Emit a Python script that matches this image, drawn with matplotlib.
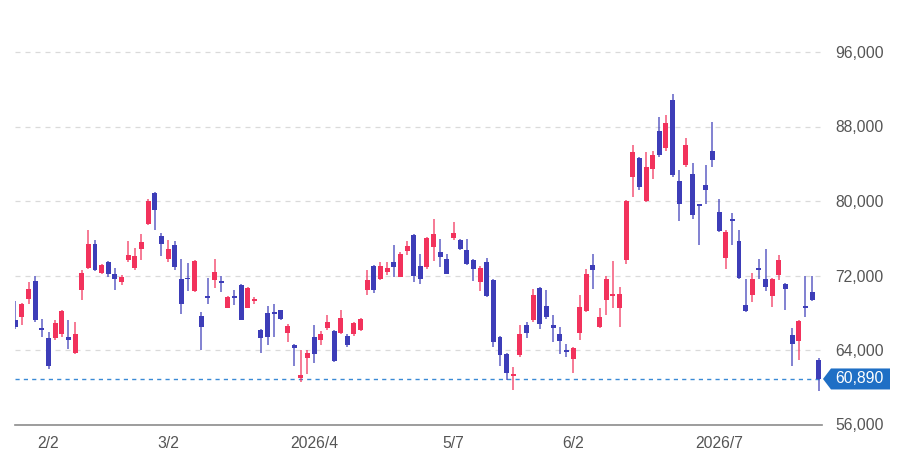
import matplotlib
matplotlib.use("Agg")
import matplotlib.pyplot as plt
from matplotlib.patches import Polygon
from matplotlib.transforms import IdentityTransform
from matplotlib.ticker import FuncFormatter
import numpy as np

plt.rcParams['font.family'] = ['Liberation Sans', 'DejaVu Sans']

# daily OHLC, one candle per trading day (late Jan .. late Jul 2026)
opens = [67200, 67500, 69500, 71400, 66400, 65240, 65240, 65740, 65390, 63700,
         70410, 72850, 75430, 72270, 73450, 72200, 71270, 73710, 72850, 74890,
         77570, 80900, 76210, 73810, 75240, 71670, 71780, 70330, 67630, 69770,
         71480, 71410, 68550, 69770, 70950, 68550, 69330, 66110, 67980, 68100,
         68260, 65850, 64520, 60990, 63180, 65390, 65110, 66400, 66040, 65850,
         65460, 65680, 66110, 70480, 72990, 71670, 72380, 73450, 71840, 74640,
         76390, 73020, 72910, 75070, 74520, 73820, 76070, 75860, 74780, 73630,
         71300, 73450, 71560, 65390, 63540, 61170, 63430, 66720, 67190, 70700,
         68690, 66650, 65670, 64040, 63070, 65790, 68160, 73100, 66500, 69340,
         69800, 68510, 73630, 82580, 84620, 79970, 83400, 87480, 85730, 90850,
         82120, 83860, 82940, 79610, 81760, 85330, 78820, 73910, 78030, 75670,
         68870, 69950, 72850, 71670, 69840, 72100, 71060, 65640, 64950, 68690,
         70230, 62920]
highs = [69300, 69000, 71300, 71950, 67370, 65950, 67190, 68260, 67190, 67000,
         72640, 76850, 75860, 73280, 73560, 72850, 72020, 75670, 75000, 76500,
         80260, 80970, 76570, 75780, 75670, 73820, 73310, 73700, 68100, 71770,
         73740, 71950, 69770, 70410, 71060, 70770, 69730, 66290, 68690, 68910,
         68300, 66830, 64690, 63970, 63970, 66650, 66040, 67800, 66110, 68340,
         65680, 67000, 67480, 72560, 73100, 73450, 73450, 75320, 74520, 75720,
         76500, 74280, 76140, 78110, 75960, 74350, 77750, 75960, 75960, 73820,
         72990, 73920, 71630, 65540, 63680, 62190, 66650, 67000, 70590, 70770,
         70410, 67730, 66470, 64690, 64330, 69880, 72670, 74350, 68550, 71950,
         73530, 70770, 80070, 86060, 84730, 85260, 85330, 89020, 89200, 91460,
         83300, 86770, 84120, 79720, 83830, 88480, 80260, 76850, 78750, 76850,
         71670, 72310, 73740, 74890, 71740, 74170, 71240, 66360, 67230, 71950,
         71950, 63140]
lows = [66300, 66650, 68900, 67000, 65390, 62000, 65050, 65390, 64150, 63610,
        69340, 72740, 72480, 72120, 71840, 70410, 70950, 73450, 72560, 73630,
        77390, 76850, 74060, 73450, 72640, 67910, 70300, 70230, 64050, 68910,
        70700, 70230, 68480, 68800, 67190, 68480, 68900, 63700, 64520, 65390,
        67190, 64840, 62300, 60560, 61470, 62590, 64520, 66110, 62720, 65740,
        64330, 65540, 66040, 69870, 70120, 71480, 72020, 71840, 71840, 74170,
        71300, 71060, 72740, 73560, 72910, 72120, 75860, 74780, 73170, 71370,
        70330, 69700, 64300, 62300, 60740, 59670, 63250, 65240, 67000, 66290,
        67370, 64840, 63610, 63250, 61580, 65070, 68100, 70520, 66400, 67730,
        68510, 66470, 73280, 80430, 81150, 79900, 82400, 84730, 85370, 82580,
        77820, 83650, 78110, 75320, 79720, 83650, 76670, 72740, 75240, 71590,
        68100, 69120, 71670, 70300, 68620, 71480, 68260, 62280, 62920, 67540,
        69230, 59560]
closes = [66500, 68900, 70500, 67260, 66110, 62260, 66910, 68160, 65110, 65670,
          72270, 75430, 72630, 73100, 72120, 71620, 71840, 74170, 74060, 75600,
          80000, 79000, 75430, 74890, 72910, 68910, 71590, 73560, 66470, 69550,
          72380, 71190, 69690, 69620, 67260, 70700, 69480, 65240, 65390, 67850,
          67370, 66580, 64260, 61360, 63680, 63540, 65680, 67000, 62830, 67480,
          64520, 66900, 67370, 71560, 70480, 72990, 72850, 72910, 74280, 75190,
          71910, 71590, 76070, 76500, 73980, 72200, 76610, 74890, 73280, 72740,
          72850, 69770, 64840, 63430, 61530, 61390, 65680, 65850, 69870, 66830,
          67540, 66360, 64950, 63800, 64220, 68650, 72200, 72560, 67540, 71590,
          69950, 70060, 79970, 85260, 81500, 83650, 84900, 84900, 88420, 82760,
          79720, 86010, 78460, 79460, 81150, 84370, 76780, 76670, 77900, 71730,
          68160, 71590, 72560, 70770, 71670, 73630, 70590, 64680, 67090, 68480,
          69340, 60890]

tick_idx = [5, 23, 45, 66, 84, 106]
tick_labels = ['2/2', '3/2', '2026/4', '5/7', '6/2', '2026/7']
y_ticks = [56000, 64000, 72000, 80000, 88000, 96000]

UP = '#f2325c'
DOWN = '#3d3db8'
TXT = '#555555'

o = np.array(opens); h = np.array(highs); l = np.array(lows); c = np.array(closes)
x = np.arange(len(o))
up = c >= o
cols = np.where(up, UP, DOWN)

fig = plt.figure(figsize=(9.01, 4.57), dpi=100)
ax = fig.add_axes([15/901, 32.5/457, 807/901, 409.75/457])

ax.vlines(x, l, h, colors=cols, lw=1.3, alpha=0.7, zorder=2)
body = np.maximum(np.abs(c - o), 180)
bottom = np.minimum(o, c) - (body - np.abs(c - o)) / 2
ax.bar(x, body, bottom=bottom, width=0.75, color=cols, zorder=3, linewidth=0)

ax.set_xlim(-0.05, 121.5)
ax.set_ylim(56000, 100000)

# last close marker line
last = c[-1]
ax.axhline(last, color='#3a8ad6', lw=1.0, ls=(0, (3, 3)), zorder=1)

ax.set_yticks(y_ticks)
ax.yaxis.tick_right()
ax.yaxis.set_major_formatter(FuncFormatter(lambda v, p: f'{int(v):,}'))
ax.tick_params(axis='y', length=0, pad=9.5, labelsize=11.3, labelcolor=TXT)
ax.set_xticks(tick_idx)
ax.set_xticklabels(tick_labels)
ax.tick_params(axis='x', length=0, pad=8, labelsize=11.3, labelcolor=TXT)

ax.grid(axis='y', color='#dadada', lw=0.9, ls=(0, (4, 4)), zorder=0)
ax.set_axisbelow(True)
for s in ['top', 'left', 'right']:
    ax.spines[s].set_visible(False)
ax.spines['bottom'].set_color('#8c8c8c')
ax.spines['bottom'].set_linewidth(1.2)

# price tag at last close
fig.canvas.draw()
yc = ax.transData.transform((0, last))[1]
xr = ax.transAxes.transform((1, 0))[0]
tag = Polygon([(xr + 1, yc), (xr + 9, yc + 10.5), (xr + 68, yc + 10.5),
               (xr + 68, yc - 10.5), (xr + 9, yc - 10.5)],
              closed=True, transform=IdentityTransform(),
              facecolor='#1f6fc5', edgecolor='none', zorder=5)
fig.add_artist(tag)
fig.text(xr + 13, yc, f'{int(last):,}', transform=IdentityTransform(),
         ha='left', va='center', fontsize=11.3, color='white', zorder=6)

fig.savefig('out.png', dpi=100)
